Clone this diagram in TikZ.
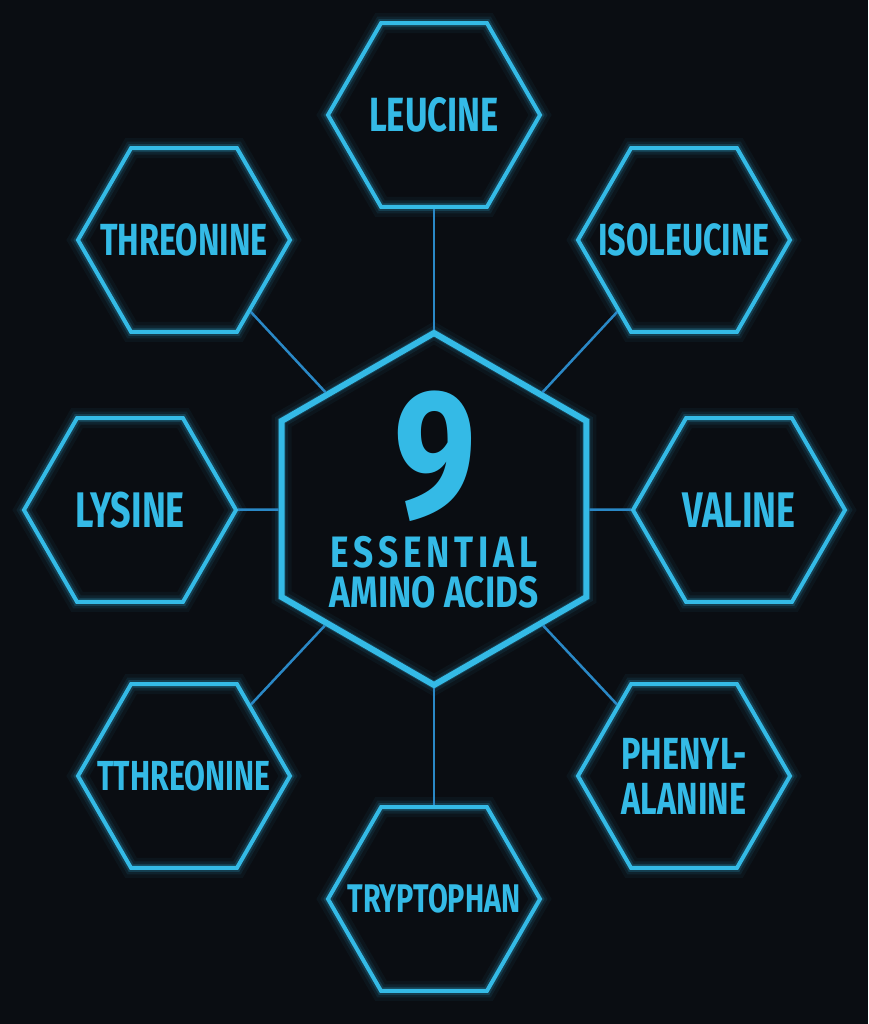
\documentclass[tikz,border=0pt]{standalone}
\usepackage{fontspec}
\usepackage{tikz}
\usetikzlibrary{shapes.geometric}
\newfontfamily\hexfont{Fira Sans}[FakeStretch=0.72]
\newfontfamily\hubfont{Fira Sans}[FakeStretch=0.8]
\definecolor{bg}{RGB}{10,13,18}
\definecolor{neon}{RGB}{52,186,230}
\definecolor{wirecol}{RGB}{42,136,198}
\tikzset{
  glow/.style={preaction={draw=neon,fill=none,line width=20pt,draw opacity=0.05},
               preaction={draw=neon,fill=none,line width=13pt,draw opacity=0.09},
               preaction={draw=neon,fill=none,line width=8pt,draw opacity=0.18}},
  hexlabel/.style={text=neon,align=center,inner sep=0pt,
                   font=\hexfont\bfseries\fontsize{#1}{45}\selectfont},
  hexlabel/.default=45,
  hexa/.style={regular polygon,regular polygon sides=6,minimum size=212pt,inner sep=0pt,
               draw=neon,line width=4pt,glow},
  hub/.style={hexa,regular polygon rotate=30,minimum size=352pt,line width=6pt},
  wire/.style={draw=wirecol,line width=2.5pt}
}
\begin{document}
\begin{tikzpicture}[x=1pt,y=-1pt]
\useasboundingbox (0,0) rectangle (868,1024);
\fill[bg] (0,0) rectangle (868,1024);
\node[hub] (hub) at (434,509) {};
\node[text=neon,inner sep=0pt,font=\hubfont\bfseries\fontsize{182}{182}\selectfont] (nine) at (435,456) {9};
\node[text=neon,inner sep=0pt,align=center,font=\hubfont\bfseries\fontsize{44}{40}\selectfont] (title) at (434,572)
  {{\addfontfeature{LetterSpace=11}ESSENTIAL}\\AMINO ACIDS};
\node[hexa,label={[hexlabel=48]center:LEUCINE}] (leu) at (434,115) {};
\node[hexa,label={[hexlabel]center:ISOLEUCINE}] (iso) at (684,240) {};
\node[hexa,label={[hexlabel=50]center:VALINE}] (val) at (739,510) {};
\node[hexa,label={[hexlabel]center:{PHENYL-\\ALANINE}}] (phe) at (684,776) {};
\node[hexa,label={[hexlabel=40]center:TRYPTOPHAN}] (trp) at (434,899) {};
\node[hexa,label={[hexlabel=42]center:TTHREONINE}] (tth) at (184,776) {};
\node[hexa,label={[hexlabel=50]center:LYSINE}] (lys) at (130,510) {};
\node[hexa,label={[hexlabel]center:THREONINE}] (thr) at (184,240) {};
\foreach \n in {leu,iso,val,phe,trp,tth,lys,thr}
  \draw[wire] (hub) -- (\n);
\end{tikzpicture}
\end{document}
